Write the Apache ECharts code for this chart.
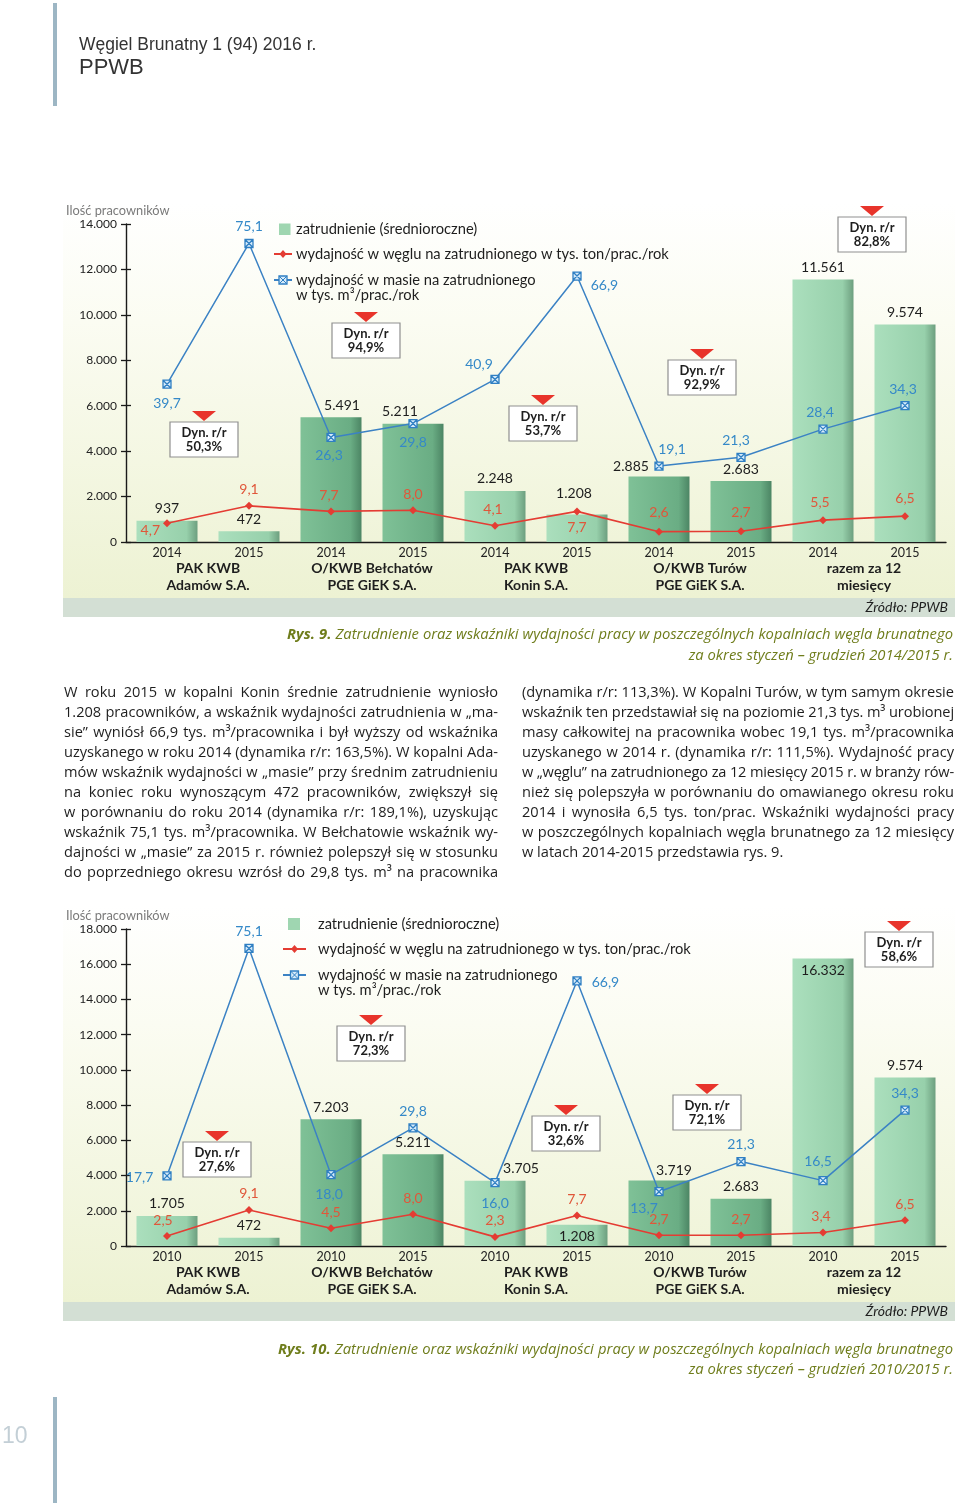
<!DOCTYPE html>
<html><head><meta charset="utf-8">
<script src="https://cdn.jsdelivr.net/npm/echarts@6/dist/echarts.min.js"></script>
<style>
html,body{margin:0;padding:0;background:#fff;}
#page{position:relative;width:960px;height:1503px;overflow:hidden;}
#chart{position:absolute;left:0;top:0;width:960px;height:1503px;}
.pl{position:absolute;white-space:nowrap;font-family:'Open Sans',Lato,sans-serif;font-size:14.6px;color:#1e1e1e;line-height:20px;}
.hd{position:absolute;white-space:nowrap;font-family:'Liberation Sans',Arial,sans-serif;color:#333;}
.cap{position:absolute;white-space:nowrap;font-family:'Open Sans',sans-serif;font-style:italic;font-size:14.8px;color:#6f7d1c;line-height:20px;}
.cap b{font-weight:bold;}
.bar{position:absolute;background:#9db6c4;width:4px;}
</style></head>
<body><div id="page"><div id="chart"></div></div>
<script>
// ---------- data ----------
const categories1 = ['2014','2015','2014','2015','2014','2015','2014','2015','2014','2015'];
const categories2 = ['2010','2015','2010','2015','2010','2015','2010','2015','2010','2015'];
const groups = ['PAK KWB\nAdamów S.A.','O/KWB Bełchatów\nPGE GiEK S.A.','PAK KWB\nKonin S.A.','O/KWB Turów\nPGE GiEK S.A.','razem za 12\nmiesięcy'];
const employment1 = [937,472,5491,5211,2248,1208,2885,2683,11561,9574];
const coal1 = [4.7,9.1,7.7,8.0,4.1,7.7,2.6,2.7,5.5,6.5];
const mass1 = [39.7,75.1,26.3,29.8,40.9,66.9,19.1,21.3,28.4,34.3];
const dyn1 = ['50,3%','94,9%','53,7%','92,9%','82,8%'];
const employment2 = [1705,472,7203,5211,3705,1208,3719,2683,16332,9574];
const coal2 = [2.5,9.1,4.5,8.0,2.3,7.7,2.7,2.7,3.4,6.5];
const mass2 = [17.7,75.1,18.0,29.8,16.0,66.9,13.7,21.3,16.5,34.3];
const dyn2 = ['27,6%','72,3%','32,6%','72,1%','58,6%'];
const yAxis1 = {min:0, max:14000, interval:2000};
const yAxis2 = {min:0, max:18000, interval:2000};
const ratioAxis = {min:0, max:80};
const seriesNames = ['zatrudnienie (średnioroczne)','wydajność w węglu na zatrudnionego w tys. ton/prac./rok','wydajność w masie na zatrudnionego\nw tys. m³/prac./rok'];
const axisTitle = 'Ilość pracowników';
const sourceText = 'Źródło: PPWB';

// ---------- label placement (style) ----------
const barLab1 = [['top',0,0],['top',0,0],['top',11,0],['top',-13,0],['top',0,0],['top',-3,-9],['top',-28,2],['top',0,0],['top',0,0],['top',0,0]];
const redLab1 = [['left',2,7],['top',0,0],['top',-2,0],['top',0,0],['top',-2,0],['bottom',0,0],['top',0,-3],['top',0,-3],['top',-3,-2],['top',0,-2]];
const blueLab1 = [['bottom',0,3],['top',0,0],['bottom',-2,1],['bottom',0,2],['top',-16,2],['right',4,9],['top',13,0],['top',-5,0],['top',-3,0],['top',-2,0]];
const barLab2 = [['top',0,0],['top',0,0],['top',0,0],['top',0,0],['top',26,0],['insideTop',0,0],['top',15,2],['top',0,0],['insideTop',0,0],['top',0,0]];
const redLab2 = [['top',-4,0],['top',0,0],['top',0,0],['top',0,0],['top',0,0],['top',0,0],['top',0,0],['top',0,0],['top',-2,0],['top',0,0]];
const blueLab2 = [['left',-4,2],['top',0,0],['bottom',-2,3],['top',0,0],['bottom',0,4],['right',5,2],['bottom',-15,0],['top',0,0],['top',-5,-2],['top',0,0]];
const dynTop1 = [5283,9641,5987,8012,14308], dynDx1 = [-4,-6,7,2,8];
const dynTop2 = [5906,12493,7382,8575,17831], dynDx2 = [9,-1,30,7,35];

const layout = [
  {top:224, height:318, panelTop:203, bandTop:598, legend:{sq:[279,223.5,11.5], lx0:274, lx1:292, ys:[229,254,280], tx:296}},
  {top:929, height:317, panelTop:905, bandTop:1302, legend:{sq:[288,918,12], lx0:283, lx1:306, ys:[924,949,975], tx:318}}
];

const FONT = 'Lato';
const RED = '#e43c33', BLUE = '#3b82c4';
function fmtInt(v){return String(v).replace(/\B(?=(\d{3})+(?!\d))/g,'.');}
function fmtDec(v){return v.toFixed(1).replace('.',',');}
const grad = (a,b,c)=>({type:'linear',x:0,y:0,x2:1,y2:0,colorStops:[{offset:0,color:a},{offset:0.82,color:b},{offset:1,color:c}]});
const lightBar = grad('#abdfbd','#97d0ab','#6d9f7f');
const darkBar = grad('#7fc197','#6aad84','#4c8564');
const squareX = 'path://M0 0H10V10H0Z M0 0L10 10 M10 0L0 10';

function render(){
  const chart = echarts.init(document.getElementById('chart'), null, {renderer:'canvas'});
  const grids=[], xAxes=[], yAxes=[], series=[];
  const sets = [
    {cats:categories1, emp:employment1, coal:coal1, mass:mass1, y:yAxis1, bl:barLab1, rl:redLab1, ul:blueLab1},
    {cats:categories2, emp:employment2, coal:coal2, mass:mass2, y:yAxis2, bl:barLab2, rl:redLab2, ul:blueLab2}
  ];
  sets.forEach((s,k)=>{
    const L = layout[k];
    grids.push({left:126, top:L.top, width:820, height:L.height});
    xAxes.push({type:'category', gridIndex:k, position:'bottom', data:s.cats,
      axisLine:{lineStyle:{color:'#1a1a1a',width:1.4}}, axisTick:{length:6,lineStyle:{color:'#1a1a1a',width:1.3}},
      axisLabel:{margin:4, fontSize:12.5, color:'#222', fontFamily:FONT}});
    xAxes.push({type:'category', gridIndex:k, position:'bottom', data:s.cats,
      axisLine:{show:false}, axisTick:{inside:true,length:6,lineStyle:{color:'#1a1a1a',width:1.3}}, axisLabel:{show:false}});
    xAxes.push({type:'category', gridIndex:k, position:'bottom', data:groups,
      axisLine:{show:false}, axisTick:{show:false},
      axisLabel:{margin:18, fontSize:14, fontWeight:'bold', lineHeight:17, color:'#1e1e1e', fontFamily:FONT, interval:0}});
    yAxes.push({type:'value', gridIndex:k, position:'left', min:s.y.min, max:s.y.max, interval:s.y.interval,
      axisLine:{show:true,lineStyle:{color:'#1a1a1a',width:1.4}}, axisTick:{show:true,length:5,lineStyle:{color:'#1a1a1a',width:1.3}},
      splitLine:{show:false}, axisLabel:{margin:9, fontSize:12, color:'#222', fontFamily:FONT, formatter:v=>fmtInt(v)}});
    yAxes.push({type:'value', gridIndex:k, min:ratioAxis.min, max:ratioAxis.max, show:false, splitLine:{show:false}});
    yAxes.push({type:'value', gridIndex:k, position:'left', min:s.y.min, max:s.y.max, interval:s.y.interval,
      axisLine:{show:false}, axisTick:{show:true,inside:true,length:5,lineStyle:{color:'#1a1a1a',width:1.3}},
      splitLine:{show:false}, axisLabel:{show:false}});
    const xi = 3*k, yi = 3*k;
    series.push({type:'bar', name:seriesNames[0], xAxisIndex:xi, yAxisIndex:yi, barWidth:61,
      data:s.emp.map((v,i)=>({value:v, itemStyle:{color:([1,3].includes(Math.floor(i/2))?darkBar:lightBar)},
        label:{position:s.bl[i][0], offset:[s.bl[i][1],s.bl[i][2]]}})),
      label:{show:true, formatter:p=>fmtInt(p.value), color:'#1e1e1e', fontSize:14, fontFamily:FONT}, z:2});
    series.push({type:'line', name:seriesNames[1], xAxisIndex:xi, yAxisIndex:yi+1,
      data:s.coal.map((v,i)=>({value:v, label:{position:s.rl[i][0], offset:[s.rl[i][1],s.rl[i][2]]}})),
      symbol:'diamond', symbolSize:8, lineStyle:{color:RED,width:1.6}, itemStyle:{color:RED},
      label:{show:true, formatter:p=>fmtDec(p.value), color:'#e0573a', fontSize:14, fontFamily:FONT}, z:5});
    series.push({type:'line', name:seriesNames[2], xAxisIndex:xi, yAxisIndex:yi+1,
      data:s.mass.map((v,i)=>({value:v, label:{position:s.ul[i][0], offset:[s.ul[i][1],s.ul[i][2]]}})),
      symbol:squareX, symbolSize:8, lineStyle:{color:BLUE,width:1.5},
      itemStyle:{color:'#d6ebfa', borderColor:'#2f7fc3', borderWidth:1.3},
      label:{show:true, formatter:p=>fmtDec(p.value), color:'#3589c8', fontSize:14, fontFamily:FONT}, z:6});
  });

  chart.setOption({animation:false, grid:grids, xAxis:xAxes, yAxis:yAxes, series:series});

  // ---------- graphics ----------
  const G = [];
  const txt = (text,x,y,o={}) => ({type:'text', z:o.z||50, style:Object.assign({text, x, y, fill:o.fill||'#1e1e1e',
      fontSize:o.size||13.5, fontFamily:o.family||FONT, fontWeight:o.weight||'normal', fontStyle:o.style||'normal',
      align:o.align||'left', textAlign:o.align||'left', verticalAlign:'middle', textVerticalAlign:'middle'})});
  layout.forEach((L,k)=>{
    G.push({type:'rect', z:-10, shape:{x:63,y:L.panelTop,width:892,height:L.bandTop-L.panelTop},
      style:{fill:{type:'linear',x:0,y:0,x2:0,y2:1,colorStops:[{offset:0,color:'#ffffff'},{offset:0.3,color:'#fbfcf2'},{offset:1,color:'#edf2d3'}]}}});
    G.push({type:'rect', z:-10, shape:{x:63,y:L.bandTop,width:892,height:19}, style:{fill:'#d3dfd4'}});
    G.push(txt(sourceText, 948, L.bandTop+9.5, {align:'right', style:'italic', size:14}));
    G.push(txt(axisTitle, 66, L.top-13, {fill:'#7a7a7a', size:12.8}));
    const lg = L.legend;
    G.push({type:'rect', z:50, shape:{x:lg.sq[0],y:lg.sq[1],width:lg.sq[2],height:lg.sq[2]}, style:{fill:'#9fd6b1'}});
    const mx = (lg.lx0+lg.lx1)/2;
    G.push({type:'line', z:50, shape:{x1:lg.lx0,y1:lg.ys[1],x2:lg.lx1,y2:lg.ys[1]}, style:{stroke:RED,lineWidth:2}});
    G.push({type:'polygon', z:51, shape:{points:[[mx,lg.ys[1]-4],[mx+3.5,lg.ys[1]],[mx,lg.ys[1]+4],[mx-3.5,lg.ys[1]]]}, style:{fill:RED}});
    G.push({type:'line', z:50, shape:{x1:lg.lx0,y1:lg.ys[2],x2:lg.lx1,y2:lg.ys[2]}, style:{stroke:BLUE,lineWidth:2}});
    G.push({type:'rect', z:51, shape:{x:mx-4,y:lg.ys[2]-4,width:8,height:8}, style:{fill:'#d6ebfa',stroke:'#2f7fc3',lineWidth:1.3}});
    G.push({type:'polyline', z:52, shape:{points:[[mx-4,lg.ys[2]-4],[mx+4,lg.ys[2]+4]]}, style:{stroke:'#2f7fc3',lineWidth:1}});
    G.push({type:'polyline', z:52, shape:{points:[[mx+4,lg.ys[2]-4],[mx-4,lg.ys[2]+4]]}, style:{stroke:'#2f7fc3',lineWidth:1}});
    G.push(txt(seriesNames[0], lg.tx, lg.ys[0], {size:14.7}));
    G.push(txt(seriesNames[1], lg.tx, lg.ys[1], {size:14.7}));
    const p3 = seriesNames[2].split('\n');
    G.push(txt(p3[0], lg.tx, lg.ys[2], {size:14.7}));
    G.push(txt(p3[1], lg.tx, lg.ys[2]+15, {size:14.7}));
  });
  const dynSets = [[dyn1,dynTop1,dynDx1],[dyn2,dynTop2,dynDx2]];
  dynSets.forEach(([dyn,tops,dx],k)=>{
    dyn.forEach((t,g)=>{
      const x0 = chart.convertToPixel({xAxisIndex:3*k}, 2*g);
      const x1 = chart.convertToPixel({xAxisIndex:3*k}, 2*g+1);
      const cx = (x0+x1)/2 + dx[g];
      const ty = chart.convertToPixel({yAxisIndex:3*k}, tops[g]);
      G.push({type:'polygon', z:60, shape:{points:[[cx-12,ty-11],[cx+12,ty-11],[cx,ty-1]]}, style:{fill:'#e8342b'}});
      G.push({type:'rect', z:60, shape:{x:cx-34,y:ty,width:68,height:35}, style:{fill:'#ffffff',stroke:'#8f8f8f',lineWidth:1.2}});
      G.push(txt('Dyn. r/r', cx, ty+10.5, {align:'center', weight:'bold', size:13, z:61}));
      G.push(txt(t, cx, ty+25, {align:'center', weight:'bold', size:13, z:61}));
    });
  });
  chart.setOption({graphic:{elements:G}});

  // ---------- page text ----------
  const page = document.getElementById('page');
  function el(cls, html, x, y){const d=document.createElement('div');d.className=cls;d.innerHTML=html;d.style.left=x+'px';d.style.top=y+'px';page.appendChild(d);return d;}
  el('bar','',53,3).style.height='103px';
  el('bar','',53,1397).style.height='106px';
  const h1 = el('hd','Węgiel Brunatny 1 (94) 2016 r.',79,34); h1.style.fontSize='17.5px';
  const h2 = el('hd','PPWB',79,54); h2.style.fontSize='22px';
  const pn = el('hd','10',2,1422); pn.style.fontSize='23px'; pn.style.color='#c3cfd6';

  function justify(d, w){
    const nat=d.getBoundingClientRect().width;
    const t=d.textContent;
    const n=(t.match(/ /g)||[]).length;
    const diff = w-nat;
    if(diff>=0){ if(n) d.style.wordSpacing=(diff/n)+'px'; }
    else {
      d.style.letterSpacing=(diff/(t.length-1))+'px';
      const nat2=d.getBoundingClientRect().width;
      if(n) d.style.wordSpacing=((w-nat2)/n)+'px';
    }
  }
  const leftLines = [
    'W roku 2015 w kopalni Konin średnie zatrudnienie wyniosło',
    '1.208 pracowników, a wskaźnik wydajności zatrudnienia w „ma-',
    'sie” wyniósł 66,9 tys. m³/pracownika i był wyższy od wskaźnika',
    'uzyskanego w roku 2014 (dynamika r/r: 163,5%). W kopalni Ada-',
    'mów wskaźnik wydajności w „masie” przy średnim zatrudnieniu',
    'na koniec roku wynoszącym 472 pracowników, zwiększył się',
    'w porównaniu do roku 2014 (dynamika r/r: 189,1%), uzyskując',
    'wskaźnik 75,1 tys. m³/pracownika. W Bełchatowie wskaźnik wy-',
    'dajności w „masie” za 2015 r. również polepszył się w stosunku',
    'do poprzedniego okresu wzrósł do 29,8 tys. m³ na pracownika'];
  const rightLines = [
    '(dynamika r/r: 113,3%). W Kopalni Turów, w tym samym okresie',
    'wskaźnik ten przedstawiał się na poziomie 21,3 tys. m³ urobionej',
    'masy całkowitej na pracownika wobec 19,1 tys. m³/pracownika',
    'uzyskanego w 2014 r. (dynamika r/r: 111,5%). Wydajność pracy',
    'w „węglu” na zatrudnionego za 12 miesięcy 2015 r. w branży rów-',
    'nież się polepszyła w porównaniu do omawianego okresu roku',
    '2014 i wynosiła 6,5 tys. ton/prac. Wskaźniki wydajności pracy',
    'w poszczególnych kopalniach węgla brunatnego za 12 miesięcy',
    'w latach 2014-2015 przedstawia rys. 9.'];
  leftLines.forEach((t,i)=>{const d=el('pl','',64,681+20*i); d.textContent=t; justify(d,434);});
  rightLines.forEach((t,i)=>{const d=el('pl','',522,681+20*i); d.textContent=t; if(i<rightLines.length-1) justify(d,432);});

  const caps = [
    {l1:'<b>Rys. 9.</b> Zatrudnienie oraz wskaźniki wydajności pracy w poszczególnych kopalniach węgla brunatnego', x:287, y1:623, l2:'za okres styczeń – grudzień 2014/2015 r.', y2:644},
    {l1:'<b>Rys. 10.</b> Zatrudnienie oraz wskaźniki wydajności pracy w poszczególnych kopalniach węgla brunatnego', x:278, y1:1338, l2:'za okres styczeń – grudzień 2010/2015 r.', y2:1358}];
  caps.forEach(c=>{
    const a=el('cap',c.l1,c.x,c.y1); justify(a,953-c.x);
    const b=el('cap',c.l2,0,c.y2); b.style.left=''; b.style.right=(960-953)+'px';
  });
}
const fl = ['14px Lato','bold 14px Lato','italic 14px Lato','14px "Open Sans"','italic 14px "Open Sans"','bold italic 14px "Open Sans"','14px "Liberation Sans"'].map(f=>document.fonts.load(f).catch(()=>{}));
Promise.all(fl).then(render, render);
</script></body></html>
